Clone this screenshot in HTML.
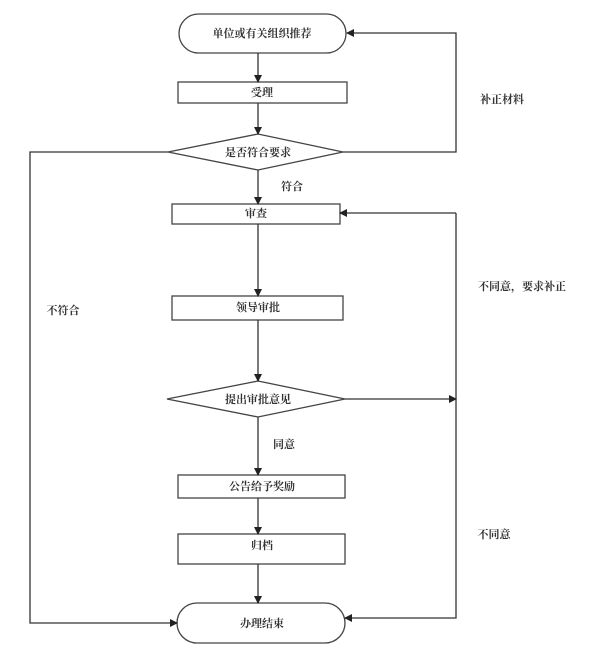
<!DOCTYPE html>
<html><head><meta charset="utf-8"><style>
html,body{margin:0;padding:0;background:#fff;}
svg{display:block;}
text{font-family:"Liberation Serif","Noto Serif CJK SC","Noto Sans CJK SC",serif;font-size:11px;fill:#333;font-weight:bold;}
</style></head><body>
<svg width="600" height="655" viewBox="0 0 600 655" xmlns="http://www.w3.org/2000/svg">
<defs><marker id="a" markerWidth="8" markerHeight="8" refX="7" refY="4" orient="auto" markerUnits="userSpaceOnUse"><path d="M0,0 L8,4 L0,8 z" fill="#222"/></marker></defs>
<g stroke="#444" stroke-width="1.3" fill="none">
<rect x="179" y="14" width="167" height="39" rx="19.5"/>
<rect x="178" y="82" width="169" height="21"/>
<polygon points="168,152 258,134 343,152 258,170"/>
<rect x="172" y="204" width="168" height="20"/>
<rect x="172" y="296" width="171" height="24"/>
<polygon points="167,399 258,381 345,399 258,417"/>
<rect x="178" y="475" width="167" height="23"/>
<rect x="178" y="534" width="167" height="30"/>
<rect x="177" y="603" width="168" height="40" rx="20"/>
</g>
<g stroke="#333" stroke-width="1.3" fill="none">
<line x1="258" y1="53" x2="258" y2="82" marker-end="url(#a)"/>
<line x1="258" y1="103" x2="258" y2="134" marker-end="url(#a)"/>
<line x1="258" y1="170" x2="258" y2="204" marker-end="url(#a)"/>
<line x1="258" y1="224" x2="258" y2="296" marker-end="url(#a)"/>
<line x1="258" y1="320" x2="258" y2="381" marker-end="url(#a)"/>
<line x1="258" y1="417" x2="258" y2="475" marker-end="url(#a)"/>
<line x1="258" y1="498" x2="258" y2="534" marker-end="url(#a)"/>
<line x1="258" y1="564" x2="258" y2="603" marker-end="url(#a)"/>
<polyline points="343,152 456,152 456,33 347,33" marker-end="url(#a)"/>
<polyline points="168,152 30,152 30,623 177,623" marker-end="url(#a)"/>
<line x1="345" y1="399" x2="456" y2="399" marker-end="url(#a)"/>
<polyline points="456,213 456,618 345,618" marker-end="url(#a)"/>
<line x1="456" y1="213" x2="340" y2="213" marker-end="url(#a)"/>
</g>
<g text-anchor="middle" dominant-baseline="central">
<text x="262" y="34">单位或有关组织推荐</text>
<text x="262" y="93">受理</text>
<text x="258" y="153">是否符合要求</text>
<text x="256" y="214">审查</text>
<text x="258" y="308">领导审批</text>
<text x="258" y="400">提出审批意见</text>
<text x="262" y="487">公告给予奖励</text>
<text x="262" y="546">归档</text>
<text x="262" y="624">办理结束</text>
<text x="292" y="187">符合</text>
<text x="284" y="445">同意</text>
<text x="502" y="100">补正材料</text>
<text x="522" y="287">不同意，要求补正</text>
<text x="63" y="311">不符合</text>
<text x="494" y="535">不同意</text>
</g>
</svg>
</body></html>
